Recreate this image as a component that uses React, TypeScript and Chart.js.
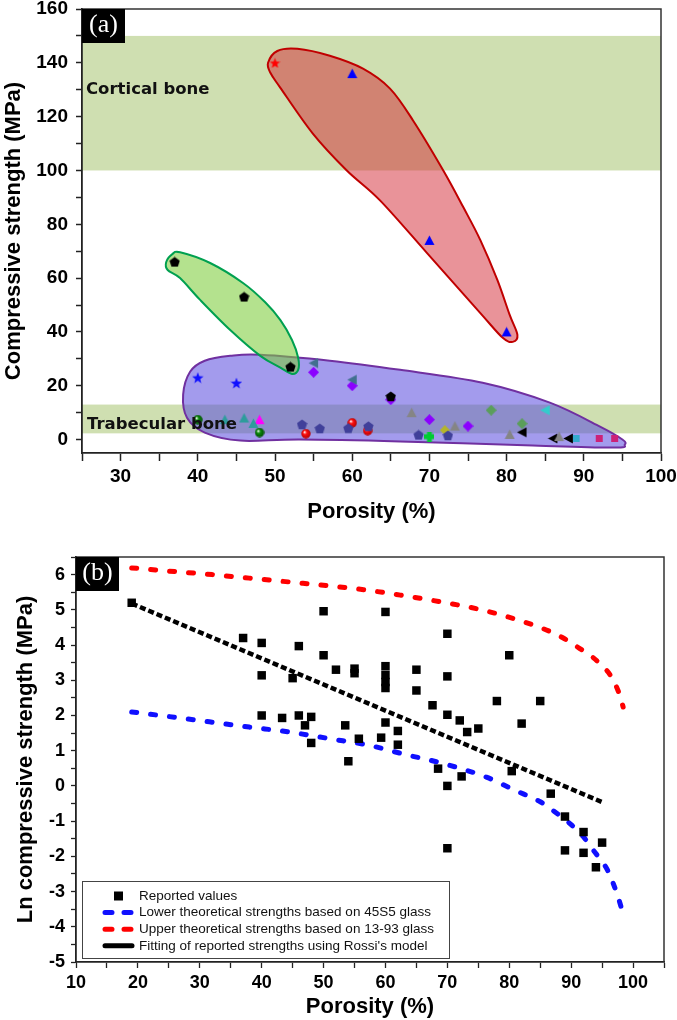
import React, { useEffect, useRef } from 'react';
import { Chart, registerables } from 'chart.js';

Chart.register(...registerables);

// ---------------- Panel (a) data: porosity (%) vs compressive strength (MPa) ----------------
const redStarX = [50];
const redStarY = [140];
const blueTriX = [60, 70, 80];
const blueTriY = [136, 74, 40];
const blackPentX = [37, 46, 52, 65];
const blackPentY = [66, 53, 27, 16];
const blueStarX = [40, 45];
const blueStarY = [23, 21];
const steelTriX = [55, 60];
const steelTriY = [28.4, 22.2];
const purpleDiaX = [55, 60, 65, 70, 75];
const purpleDiaY = [25, 20, 14.8, 7.4, 5];
const greenBallX = [40, 48];
const greenBallY = [7.4, 2.6];
const tealTriX = [43.5, 46, 47.2];
const tealTriY = [7.4, 8, 6];
const magentaTriX = [48];
const magentaTriY = [7.4];
const navyPentX = [53.5, 55.8, 59.5, 62.1, 68.6, 72.4];
const navyPentY = [5.6, 4.1, 4.2, 4.9, 1.7, 1.5];
const redBallX = [54, 60, 62];
const redBallY = [2.2, 6.2, 3.3];
const grayTriX = [67.7, 73.3, 80.4, 86.8];
const grayTriY = [10, 5, 1.9, 1.1];
const greenPlusX = [70];
const greenPlusY = [1.1];
const oliveX = [72];
const oliveY = [3.5];
const seaGreenX = [78, 82];
const seaGreenY = [10.9, 5.9];
const blackLeftX = [82, 86, 88];
const blackLeftY = [2.7, 0.4, 0.4];
const cyanLeftX = [85];
const cyanLeftY = [10.9];
const cyanSqX = [89];
const cyanSqY = [0.4];
const pinkSqX = [92, 94];
const pinkSqY = [0.4, 0.4];

// bone strength ranges (MPa)
const corticalBand = [100, 150];
const trabecularBand = [2.3, 13];

// outlines of the grouped regions (porosity %, MPa)
const corticalBlobX = [49.1, 50.3, 52.9, 57.1, 61.4, 64.9, 67.9, 71.8, 74.4, 76.6, 78.8, 80.4, 81.4, 80.8, 79.5, 76.6, 69.7, 63.6, 59.3, 54.9, 50.7, 49.4];
const corticalBlobY = [140, 144.4, 145.2, 142.6, 137.8, 130.4, 118.5, 100, 86.3, 74.1, 59.3, 46.3, 38.9, 36.3, 37.8, 47, 69.3, 88.9, 100, 113.7, 130.7, 136.3];
const greenBlobX = [35.9, 36.7, 37.7, 41.6, 45.9, 48.7, 50.7, 52.2, 53.0, 53.0, 52.2, 50.7, 48.1, 44.2, 40.3, 37.7, 36.1];
const greenBlobY = [65.9, 68.9, 69.6, 65.6, 58.1, 51.1, 44.4, 37, 30.4, 25.9, 24.4, 26.7, 31.1, 40.7, 51.9, 60, 63];
const purpleBlobX = [38.1, 39.0, 40.9, 44.2, 48.1, 57.1, 66.2, 76.9, 85.6, 92.1, 95.0, 95.3, 94.0, 83.4, 66.2, 53.2, 45.5, 40.9, 38.6];
const purpleBlobY = [16.7, 25.2, 29.3, 31.1, 31.5, 29.3, 25.9, 21.1, 13.7, 4.8, 0, -1.9, -3, -2.2, -0.7, 0, -0.4, 2.6, 8.1];

// ---------------- Panel (b) data: porosity (%) vs ln strength ----------------
const reportedX = [19, 37, 40, 40, 40, 43.3, 45, 46, 46, 47, 48, 48, 50, 50, 52, 53.5, 54, 55, 55, 55.7, 59.3, 60, 60, 60, 60, 60, 60, 62, 62, 65, 65, 67.6, 68.5, 70, 70, 70, 70, 70, 72, 72.3, 73.2, 75, 78, 80, 80.4, 82, 85, 86.7, 89, 89, 92, 92, 94, 95];
const reportedY = [5.2, 4.2, 4.06, 3.14, 2.0, 1.93, 3.06, 3.97, 2.0, 1.72, 1.96, 1.22, 4.96, 3.71, 3.3, 1.72, 0.7, 3.33, 3.2, 1.34, 1.37, 4.94, 3.4, 3.15, 2.95, 2.78, 1.8, 1.56, 1.17, 3.3, 2.71, 2.29, 0.49, 4.32, 3.11, 2.02, 0.0, -1.77, 1.86, 0.27, 1.53, 1.63, 2.41, 3.71, 0.42, 1.77, 2.41, -0.22, -0.87, -1.83, -1.31, -1.9, -2.31, -1.61];
const lowerX = [19, 25, 32, 38, 44.5, 51, 57.4, 63, 69, 76.3, 81, 85, 87, 90, 92, 93.6, 95, 95.9, 97.4, 98.4];
const lowerY = [2.1, 1.97, 1.81, 1.67, 1.53, 1.34, 1.15, 0.9, 0.65, 0.25, -0.13, -0.45, -0.69, -1.1, -1.45, -1.83, -2.15, -2.4, -3.06, -3.63];
const upperX = [19, 25, 32, 38, 44.5, 51, 57.4, 63, 69.8, 75, 79, 85.4, 88.5, 91.4, 93.5, 95.2, 96.3, 97.1, 97.8, 98.4];
const upperY = [6.19, 6.1, 6.0, 5.9, 5.79, 5.68, 5.55, 5.4, 5.2, 5.02, 4.84, 4.47, 4.22, 3.9, 3.65, 3.38, 3.15, 2.9, 2.6, 2.24];
const fitX = [19, 95];
const fitY = [5.18, -0.46];

const FONT = '"Liberation Sans", Arial, Helvetica, sans-serif';

const toPoints = (xs: number[], ys: number[]) => xs.map((x, i) => ({ x, y: ys[i] }));

function makeMarker(shape: string, color: string, size: number, dark?: string): HTMLCanvasElement {
  const c = document.createElement('canvas');
  c.width = size;
  c.height = size;
  const g = c.getContext('2d') as CanvasRenderingContext2D;
  const r = size / 2;
  const cx = r;
  const cy = r;
  g.fillStyle = color;
  g.beginPath();
  if (shape === 'pentagon') {
    for (let i = 0; i < 5; i++) {
      const a = -Math.PI / 2 + (i * 2 * Math.PI) / 5;
      const px = cx + r * 0.98 * Math.cos(a);
      const py = cy + 0.5 + r * 0.98 * Math.sin(a);
      if (i === 0) g.moveTo(px, py);
      else g.lineTo(px, py);
    }
  } else if (shape === 'triangle') {
    g.moveTo(cx, 0.5);
    g.lineTo(size - 0.5, size - 1);
    g.lineTo(0.5, size - 1);
  } else if (shape === 'leftTriangle') {
    g.moveTo(0.5, cy);
    g.lineTo(size - 1, 0.5);
    g.lineTo(size - 1, size - 0.5);
  } else if (shape === 'diamond') {
    g.moveTo(cx, 0);
    g.lineTo(size, cy);
    g.lineTo(cx, size);
    g.lineTo(0, cy);
  } else if (shape === 'star') {
    for (let i = 0; i < 10; i++) {
      const a = -Math.PI / 2 + (i * Math.PI) / 5;
      const rr = i % 2 === 0 ? r : r * 0.42;
      const px = cx + rr * Math.cos(a);
      const py = cy + 0.6 + rr * Math.sin(a);
      if (i === 0) g.moveTo(px, py);
      else g.lineTo(px, py);
    }
  } else if (shape === 'square') {
    g.rect(1, 1, size - 2, size - 2);
  } else if (shape === 'plus') {
    const t = size * 0.24;
    g.rect(cx - t, 0, 2 * t, size);
    g.rect(0, cy - t, size, 2 * t);
  } else if (shape === 'ball') {
    const grad = g.createRadialGradient(cx - r * 0.3, cy - r * 0.35, r * 0.05, cx, cy, r);
    grad.addColorStop(0, '#ffffff');
    grad.addColorStop(0.35, color);
    grad.addColorStop(1, dark || color);
    g.fillStyle = grad;
    g.arc(cx, cy, r - 0.3, 0, Math.PI * 2);
  }
  g.closePath();
  g.fill();
  return c;
}

const seriesA = [
  { label: 'Red star', x: redStarX, y: redStarY, shape: 'star', color: '#ff0000', size: 11 },
  { label: 'Blue triangle', x: blueTriX, y: blueTriY, shape: 'triangle', color: '#0000ff', size: 11 },
  { label: 'Black pentagon', x: blackPentX, y: blackPentY, shape: 'pentagon', color: '#000000', size: 11 },
  { label: 'Blue star', x: blueStarX, y: blueStarY, shape: 'star', color: '#1010ff', size: 12 },
  { label: 'Steel left triangle', x: steelTriX, y: steelTriY, shape: 'leftTriangle', color: '#41708f', size: 11 },
  { label: 'Purple diamond', x: purpleDiaX, y: purpleDiaY, shape: 'diamond', color: '#8b00ff', size: 11 },
  { label: 'Green ball', x: greenBallX, y: greenBallY, shape: 'ball', color: '#0a8a0a', size: 10, dark: '#004d00' },
  { label: 'Teal triangle', x: tealTriX, y: tealTriY, shape: 'triangle', color: '#2e9c9c', size: 11 },
  { label: 'Magenta triangle', x: magentaTriX, y: magentaTriY, shape: 'triangle', color: '#ff00ff', size: 11 },
  { label: 'Navy pentagon', x: navyPentX, y: navyPentY, shape: 'pentagon', color: '#40409a', size: 11 },
  { label: 'Red ball', x: redBallX, y: redBallY, shape: 'ball', color: '#ff1010', size: 10, dark: '#b00000' },
  { label: 'Gray triangle', x: grayTriX, y: grayTriY, shape: 'triangle', color: '#858585', size: 11 },
  { label: 'Green plus', x: greenPlusX, y: greenPlusY, shape: 'plus', color: '#00cc33', size: 10 },
  { label: 'Olive diamond', x: oliveX, y: oliveY, shape: 'diamond', color: '#b5b52a', size: 10 },
  { label: 'Sea-green diamond', x: seaGreenX, y: seaGreenY, shape: 'diamond', color: '#5a9e5a', size: 11 },
  { label: 'Black left triangle', x: blackLeftX, y: blackLeftY, shape: 'leftTriangle', color: '#000000', size: 11 },
  { label: 'Cyan left triangle', x: cyanLeftX, y: cyanLeftY, shape: 'leftTriangle', color: '#33cccc', size: 11 },
  { label: 'Cyan square', x: cyanSqX, y: cyanSqY, shape: 'square', color: '#33aacc', size: 9 },
  { label: 'Pink square', x: pinkSqX, y: pinkSqY, shape: 'square', color: '#cc2277', size: 9 },
];

function smoothClosed(ctx: CanvasRenderingContext2D, pts: number[][]) {
  const n = pts.length;
  ctx.beginPath();
  ctx.moveTo(pts[0][0], pts[0][1]);
  for (let i = 0; i < n; i++) {
    const p0 = pts[(i - 1 + n) % n];
    const p1 = pts[i];
    const p2 = pts[(i + 1) % n];
    const p3 = pts[(i + 2) % n];
    const t = 1 / 6;
    ctx.bezierCurveTo(
      p1[0] + (p2[0] - p0[0]) * t, p1[1] + (p2[1] - p0[1]) * t,
      p2[0] - (p3[0] - p1[0]) * t, p2[1] - (p3[1] - p1[1]) * t,
      p2[0], p2[1]
    );
  }
  ctx.closePath();
}

function drawLabelBox(ctx: CanvasRenderingContext2D, left: number, top: number, text: string) {
  ctx.save();
  ctx.fillStyle = '#000';
  ctx.fillRect(left, top, 43, 34);
  ctx.fillStyle = '#fff';
  ctx.font = '26px "Liberation Serif", "Times New Roman", serif';
  ctx.textAlign = 'center';
  ctx.textBaseline = 'middle';
  ctx.fillText(text, left + 21.5, top + 16);
  ctx.restore();
}

function drawFrame(chart: any) {
  const { ctx, chartArea: a } = chart;
  ctx.save();
  ctx.strokeStyle = '#333';
  ctx.lineWidth = 1.5;
  ctx.beginPath();
  ctx.moveTo(a.left, a.top);
  ctx.lineTo(a.right, a.top);
  ctx.lineTo(a.right, a.bottom);
  ctx.stroke();
  ctx.restore();
}

const panelAPlugin = {
  id: 'panelA',
  beforeDraw(chart: any) {
    const { ctx, chartArea: a, scales } = chart;
    const y = scales.y;
    ctx.save();
    ctx.fillStyle = '#cfdfb1';
    for (const band of [corticalBand, trabecularBand]) {
      const top = y.getPixelForValue(band[1]);
      const bot = y.getPixelForValue(band[0]);
      ctx.fillRect(a.left, top, a.right - a.left, bot - top);
    }
    ctx.restore();
  },
  beforeDatasetsDraw(chart: any) {
    const { ctx, scales } = chart;
    const xs = scales.x;
    const ys = scales.y;
    const blobs = [
      { X: purpleBlobX, Y: purpleBlobY, fill: 'rgba(88,72,222,0.55)', stroke: '#7030a0' },
      { X: greenBlobX, Y: greenBlobY, fill: 'rgba(125,205,60,0.58)', stroke: '#00a050' },
      { X: corticalBlobX, Y: corticalBlobY, fill: 'rgba(212,40,52,0.5)', stroke: '#c00000' },
    ];
    ctx.save();
    for (const b of blobs) {
      const pts = b.X.map((v, i) => [xs.getPixelForValue(v), ys.getPixelForValue(b.Y[i])]);
      smoothClosed(ctx, pts);
      ctx.fillStyle = b.fill;
      ctx.fill();
      ctx.lineWidth = 2;
      ctx.strokeStyle = b.stroke;
      ctx.stroke();
    }
    ctx.restore();
  },
  afterDatasetsDraw(chart: any) {
    const { ctx, chartArea: a, scales } = chart;
    const y = scales.y;
    ctx.save();
    ctx.fillStyle = '#111';
    ctx.font = 'bold 16.5px "DejaVu Sans", Verdana, sans-serif';
    ctx.textBaseline = 'middle';
    ctx.fillText('Cortical bone', a.left + 4, y.getPixelForValue(130));
    ctx.fillText('Trabecular bone', a.left + 5, y.getPixelForValue(5.5));
    ctx.restore();
  },
  afterDraw(chart: any) {
    drawFrame(chart);
    drawLabelBox(chart.ctx, chart.chartArea.left, chart.chartArea.top, '(a)');
  },
};

const panelBPlugin = {
  id: 'panelB',
  afterDraw(chart: any) {
    const { ctx, chartArea: a } = chart;
    drawFrame(chart);
    drawLabelBox(ctx, a.left, a.top, '(b)');
    // legend box
    const boxL = a.left + 6;
    const boxT = a.bottom - 81;
    const boxW = 367;
    const boxH = 77;
    ctx.save();
    ctx.fillStyle = '#fff';
    ctx.fillRect(boxL, boxT, boxW, boxH);
    ctx.strokeStyle = '#444';
    ctx.lineWidth = 1;
    ctx.strokeRect(boxL + 0.5, boxT + 0.5, boxW, boxH);
    ctx.font = '13.5px ' + FONT;
    ctx.textBaseline = 'middle';
    chart.data.datasets.forEach((ds: any, i: number) => {
      const yy = boxT + 15 + i * 16.6;
      const sx0 = boxL + 23;
      const sx1 = boxL + 50;
      if (!ds.showLine) {
        ctx.fillStyle = ds.pointBackgroundColor;
        ctx.fillRect((sx0 + sx1) / 2 - 4.5, yy - 4.5, 9, 9);
      } else {
        ctx.strokeStyle = ds.borderColor;
        ctx.lineWidth = 5;
        ctx.lineCap = 'round';
        ctx.setLineDash(ds.legendDash || []);
        ctx.beginPath();
        ctx.moveTo(sx0, yy);
        ctx.lineTo(sx1, yy);
        ctx.stroke();
        ctx.setLineDash([]);
      }
      ctx.fillStyle = '#111';
      ctx.fillText(ds.label, boxL + 57, yy);
    });
    ctx.restore();
  },
};

const tickFont = (size: number) => ({ family: FONT, size, weight: 'bold' as const });
const titleFont = { family: FONT, size: 22, weight: 'bold' as const };

export default function App() {
  const refA = useRef<HTMLCanvasElement>(null);
  const refB = useRef<HTMLCanvasElement>(null);

  useEffect(() => {
    const chartA = new Chart(refA.current as HTMLCanvasElement, {
      type: 'scatter',
      data: {
        datasets: seriesA.map((s) => ({
          label: s.label,
          data: toPoints(s.x, s.y),
          pointStyle: makeMarker(s.shape, s.color, s.size, (s as any).dark),
          pointRadius: 5,
          pointHoverRadius: 5,
          showLine: false,
        })),
      },
      options: {
        responsive: false,
        animation: false,
        events: [],
        layout: { padding: { left: 0, right: 16, top: 9, bottom: 0 } },
        plugins: { legend: { display: false }, tooltip: { enabled: false } },
        scales: {
          x: {
            type: 'linear',
            min: 25,
            max: 100,
            ticks: {
              stepSize: 5,
              autoSkip: false,
              includeBounds: false,
              maxRotation: 0,
              padding: 4,
              color: '#000',
              font: tickFont(19),
              callback: (v: any) => (Number(v) % 10 === 0 ? String(v) : ''),
            },
            grid: { drawOnChartArea: false, drawTicks: true, tickLength: 8, tickColor: '#222', tickWidth: 1.5 },
            border: { display: true, color: '#222', width: 1.8 },
            title: { display: true, text: 'Porosity (%)', color: '#000', font: titleFont, padding: { top: 0, bottom: 2 } },
            afterFit: (s: any) => { s.height = 74; s.paddingLeft = 0; s.paddingRight = 0; },
          },
          y: {
            type: 'linear',
            min: -5,
            max: 160,
            ticks: {
              stepSize: 10,
              autoSkip: false,
              includeBounds: false,
              padding: 8,
              color: '#000',
              font: tickFont(19),
              callback: (v: any) => (Number(v) % 20 === 0 && Number(v) >= 0 ? String(v) : ''),
            },
            grid: { drawOnChartArea: false, drawTicks: true, tickLength: 6, tickColor: '#222', tickWidth: 1.5 },
            border: { display: true, color: '#222', width: 1.8 },
            title: { display: true, text: 'Compressive strength (MPa)', color: '#000', font: titleFont, padding: { top: 1, bottom: 0 } },
            afterFit: (s: any) => { s.width = 82; s.paddingTop = 0; s.paddingBottom = 0; },
          },
        },
      },
      plugins: [panelAPlugin],
    } as any);

    const chartB = new Chart(refB.current as HTMLCanvasElement, {
      type: 'scatter',
      data: {
        datasets: [
          {
            label: 'Reported values',
            data: toPoints(reportedX, reportedY),
            pointStyle: 'rect',
            pointRadius: 6,
            pointHoverRadius: 6,
            pointBackgroundColor: '#000',
            pointBorderColor: '#000',
            pointBorderWidth: 0,
            showLine: false,
          },
          {
            label: 'Lower theoretical strengths based on 45S5 glass',
            data: toPoints(lowerX, lowerY),
            showLine: true,
            borderColor: '#1010ff',
            borderWidth: 5,
            borderDash: [5, 14],
            borderCapStyle: 'round',
            legendDash: [7, 12],
            pointRadius: 0,
            cubicInterpolationMode: 'monotone',
          },
          {
            label: 'Upper theoretical strengths based on 13-93 glass',
            data: toPoints(upperX, upperY),
            showLine: true,
            borderColor: '#ff0000',
            borderWidth: 5,
            borderDash: [5, 14],
            borderCapStyle: 'round',
            legendDash: [7, 12],
            pointRadius: 0,
            cubicInterpolationMode: 'monotone',
          },
          {
            label: "Fitting of reported strengths using Rossi's model",
            data: toPoints(fitX, fitY),
            showLine: true,
            borderColor: '#000',
            borderWidth: 4.5,
            borderDash: [6, 3],
            legendDash: [],
            pointRadius: 0,
          },
        ],
      },
      options: {
        responsive: false,
        animation: false,
        events: [],
        layout: { padding: { left: 0, right: 13, top: 17, bottom: 0 } },
        plugins: { legend: { display: false }, tooltip: { enabled: false } },
        scales: {
          x: {
            type: 'linear',
            min: 10,
            max: 105,
            ticks: {
              stepSize: 5,
              autoSkip: false,
              includeBounds: false,
              maxRotation: 0,
              padding: 4,
              color: '#000',
              font: tickFont(18),
              callback: (v: any) => (Number(v) % 10 === 0 && Number(v) <= 100 ? String(v) : ''),
            },
            grid: { drawOnChartArea: false, drawTicks: true, tickLength: 6, tickColor: '#222', tickWidth: 1.3 },
            border: { display: true, color: '#222', width: 1.8 },
            title: { display: true, text: 'Porosity (%)', color: '#000', font: titleFont, padding: { top: 0, bottom: 0 } },
            afterFit: (s: any) => { s.height = 58; s.paddingLeft = 0; s.paddingRight = 0; },
          },
          y: {
            type: 'linear',
            min: -5,
            max: 6.5,
            ticks: {
              stepSize: 0.5,
              autoSkip: false,
              includeBounds: false,
              padding: 6,
              color: '#000',
              font: tickFont(18),
              callback: (v: any) => (Number.isInteger(Number(v)) ? String(v) : ''),
            },
            grid: { drawOnChartArea: false, drawTicks: true, tickLength: 5, tickColor: '#222', tickWidth: 1.3 },
            border: { display: true, color: '#222', width: 1.8 },
            title: { display: true, text: 'Ln compressive strength (MPa)', color: '#000', font: titleFont, padding: { top: 13, bottom: 0 } },
            afterFit: (s: any) => { s.width = 76; s.paddingTop = 0; s.paddingBottom = 0; },
          },
        },
      },
      plugins: [panelBPlugin],
    } as any);

    return () => {
      chartA.destroy();
      chartB.destroy();
    };
  }, []);

  return (
    <div style={{ position: 'absolute', left: 0, top: 0, width: 677, height: 1020, background: '#fff' }}>
      <canvas ref={refA} width={677} height={527} style={{ position: 'absolute', left: 0, top: 0 }} />
      <canvas ref={refB} width={677} height={480} style={{ position: 'absolute', left: 0, top: 540 }} />
    </div>
  );
}
